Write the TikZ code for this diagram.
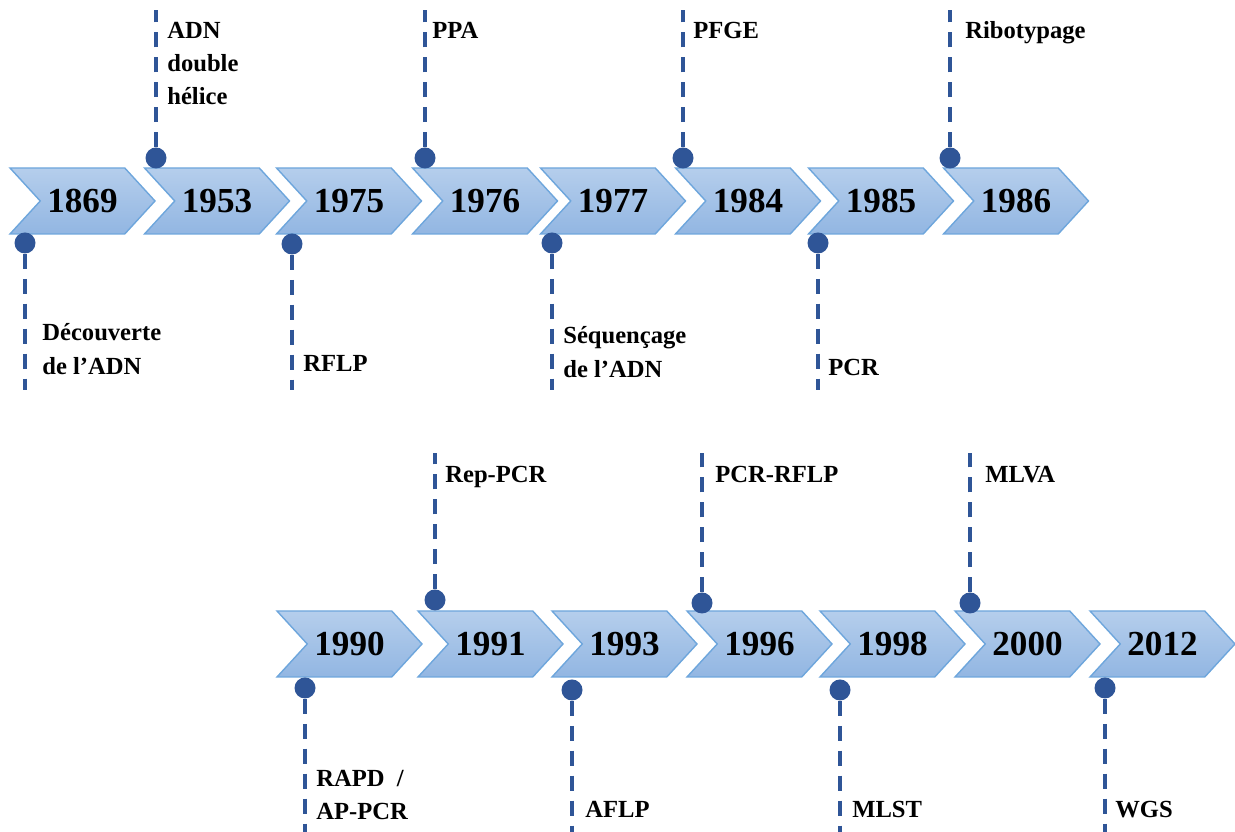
\documentclass[tikz,border=0pt]{standalone}
\usepackage{fontspec}
\setmainfont{Liberation Serif}
\usetikzlibrary{shapes.symbols}

\definecolor{chevtop}{HTML}{B5CEEC}
\definecolor{chevbot}{HTML}{92B6E2}
\definecolor{chevline}{HTML}{6EA6DC}
\definecolor{pinblue}{HTML}{2F5597}

\tikzset{
    year/.style={shape=signal, signal from=west, signal to=east, signal pointer angle=95,
        minimum width=2.9cm, minimum height=1.32cm, inner sep=0pt,
        top color=chevtop, bottom color=chevbot, draw=chevline, line width=0.8pt,
        font=\bfseries\fontsize{20}{24}\selectfont},
    pin/.style={circle, fill=pinblue, inner sep=0pt, minimum size=0.42cm},
    stem/.style={pinblue, line width=2pt, dash pattern=on 8.5pt off 5.7pt},
    event/.style={anchor=north west, inner sep=0pt, align=left,
        font=\bfseries\fontsize{14}{19}\selectfont}
}

\begin{document}
\begin{tikzpicture}
    \useasboundingbox (0,0) rectangle (24.7,16.64);

    % Top row
    % Nodes
    \node[year] (c1869) at (1.65,12.62) {1869};
    \node[year] (c1953) at (4.34,12.62) {1953};
    \node[year] (c1975) at (6.98,12.62) {1975};
    \node[year] (c1976) at (9.70,12.62) {1976};
    \node[year] (c1977) at (12.26,12.62) {1977};
    \node[year] (c1984) at (14.96,12.62) {1984};
    \node[year] (c1985) at (17.62,12.62) {1985};
    \node[year] (c1986) at (20.32,12.62) {1986};

    \node[pin] (d1869) at (0.50,11.78) {};
    \node[pin] (d1953) at (3.12,13.48) {};
    \node[pin] (d1975) at (5.84,11.76) {};
    \node[pin] (d1976) at (8.50,13.48) {};
    \node[pin] (d1977) at (11.04,11.78) {};
    \node[pin] (d1984) at (13.66,13.48) {};
    \node[pin] (d1985) at (16.36,11.78) {};
    \node[pin] (d1986) at (19.00,13.48) {};

    \coordinate (e1869) at (0.50,8.84);
    \coordinate (e1953) at (3.12,16.44);
    \coordinate (e1975) at (5.84,8.84);
    \coordinate (e1976) at (8.50,16.44);
    \coordinate (e1977) at (11.04,8.84);
    \coordinate (e1984) at (13.66,16.44);
    \coordinate (e1985) at (16.36,8.84);
    \coordinate (e1986) at (19.00,16.44);

    \node[event] (l1869) at (0.84,10.17) {Découverte\\de l’ADN};
    \node[event] (l1953) at (3.34,16.21) {ADN\\double\\hélice};
    \node[event] (l1975) at (6.06,9.53) {RFLP};
    \node[event] (l1976) at (8.64,16.21) {PPA};
    \node[event] (l1977) at (11.26,10.11) {Séquençage\\de l’ADN};
    \node[event] (l1984) at (13.86,16.21) {PFGE};
    \node[event] (l1985) at (16.56,9.47) {PCR};
    \node[event] (l1986) at (19.30,16.21) {Ribotypage};

    % Bottom row
    % Nodes
    \node[year] (c1990) at (6.99,3.76) {1990};
    \node[year] (c1991) at (9.81,3.76) {1991};
    \node[year] (c1993) at (12.49,3.76) {1993};
    \node[year] (c1996) at (15.19,3.76) {1996};
    \node[year] (c1998) at (17.85,3.76) {1998};
    \node[year] (c2000) at (20.55,3.76) {2000};
    \node[year] (c2012) at (23.25,3.76) {2012};

    \node[pin] (d1990) at (6.10,2.88) {};
    \node[pin] (d1991) at (8.70,4.64) {};
    \node[pin] (d1993) at (11.44,2.84) {};
    \node[pin] (d1996) at (14.04,4.58) {};
    \node[pin] (d1998) at (16.80,2.84) {};
    \node[pin] (d2000) at (19.40,4.58) {};
    \node[pin] (d2012) at (22.10,2.88) {};

    \coordinate (e1990) at (6.10,0);
    \coordinate (e1991) at (8.70,7.58);
    \coordinate (e1993) at (11.44,0);
    \coordinate (e1996) at (14.04,7.58);
    \coordinate (e1998) at (16.80,0);
    \coordinate (e2000) at (19.40,7.58);
    \coordinate (e2012) at (22.10,0);

    \node[event] (l1990) at (6.32,1.25) {RAPD~~/\\AP-PCR};
    \node[event] (l1991) at (8.90,7.33) {Rep-PCR};
    \node[event] (l1993) at (11.70,0.63) {AFLP};
    \node[event] (l1996) at (14.30,7.33) {PCR-RFLP};
    \node[event] (l1998) at (17.04,0.63) {MLST};
    \node[event] (l2000) at (19.70,7.33) {MLVA};
    \node[event] (l2012) at (22.30,0.63) {WGS};

    % Edges
    \foreach \y in {1869,1953,1975,1976,1977,1984,1985,1986,1990,1991,1993,1996,1998,2000,2012}
        \draw[stem] (d\y) -- (e\y);
\end{tikzpicture}
\end{document}
